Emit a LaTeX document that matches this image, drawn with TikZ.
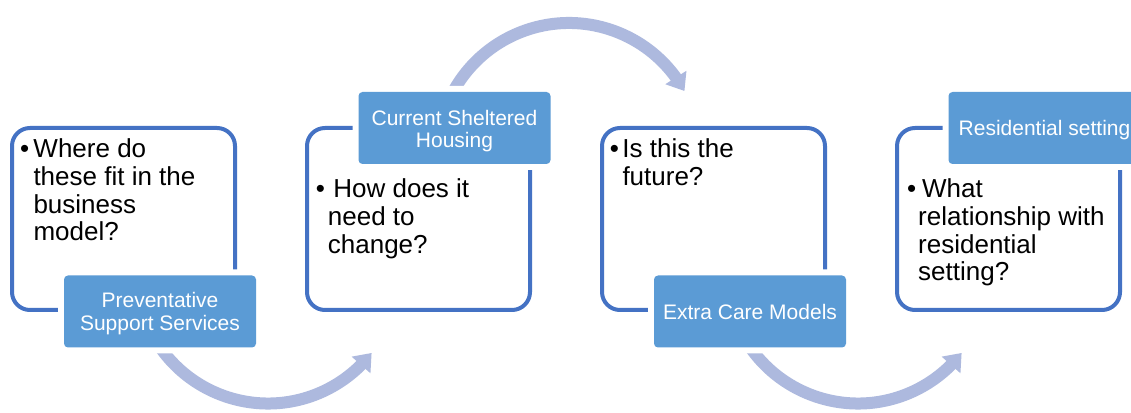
\documentclass[tikz,border=0pt]{standalone}
\usepackage{fontspec}
\setmainfont{Liberation Sans}
\usetikzlibrary{arrows.meta,bending,calc}
\definecolor{frameblue}{RGB}{68,114,196}
\definecolor{tagblue}{RGB}{91,155,213}
\definecolor{flowlav}{RGB}{173,185,222}

\begin{document}
\begin{tikzpicture}[x=1pt,y=1pt,
  frame/.style={draw=frameblue, line width=4pt, rounded corners=18pt,
    minimum width=223pt, minimum height=182pt, inner sep=0pt, outer sep=0pt},
  tag/.style={fill=tagblue, rounded corners=4pt, minimum width=192pt,
    minimum height=72pt, inner sep=0pt,
    preaction={draw=white, line width=12pt}},
  tagtext/.style={text=white, align=center, inner sep=0pt,
    font=\fontsize{21}{22.5}\selectfont},
  % anchored on the baseline of the last line
  bullets/.style={anchor=base west, align=left, inner sep=0pt,
    font=\fontsize{26}{27.6}\selectfont},
  flow/.style={draw=flowlav, line width=12pt,
    -{Triangle[width=24pt,length=16pt]}}
]
\useasboundingbox (0,0) rectangle (1131,412);
\clip (0,0) rectangle (1131,412);
\fill[white] (0,0) rectangle (1131,412);

% centres of the three curved flow arrows
\coordinate (hub1) at (268,140);
\coordinate (hub2) at (569,257);
\coordinate (hub3) at (858,140);

\draw[flow] ($(hub1)+(205:131.5)$) arc[start angle=205, end angle=322, radius=131.5];
\draw[flow] ($(hub2)+(160:132)$) arc[start angle=160, end angle=29, radius=132];
\draw[flow] ($(hub3)+(205:131.5)$) arc[start angle=205, end angle=322, radius=131.5];

% outlined stages
\node[frame] (f1) at (123.5,193) {};
\node[frame] (f2) at (418.5,193) {};
\node[frame] (f3) at (713.5,193) {};
\node[frame] (f4) at (1008.5,193) {};

% stage title boxes sitting on the frame edges
\node[tag] (t1) at ($(f1.south)+(36.5,-1.5)$) {};
\node[tag] (t2) at ($(f2.north)+(36,0)$) {};
\node[tag] (t3) at ($(f3.south)+(36.5,-1.5)$) {};
\node[tag] (t4) at ($(f4.north)+(36,0)$) {};

% stage titles
\node[tagtext] (n1) at ($(t1)+(0,-2)$) {Preventative\\Support Services};
\node[tagtext] (n2) at ($(t2)+(0,-3)$) {Current Sheltered\\Housing};
\node[tagtext] (n3) at ($(t3)+(0,-0.5)$) {Extra Care Models};
\node[tagtext] (n4) at ($(t4)+(0,-2.5)$) {Residential setting};

% questions inside each stage
\node[bullets] (q1) at (33.3,171.2) {\llap{•\hspace{4.25pt}}Where do\\these fit in the\\business\\model?};
\node[bullets] (q2) at (327.7,158.8) {\llap{•\hspace{3pt}}\hspace{5.5pt}How does it\\need to\\change?};
\node[bullets] (q3) at (622.3,226.4) {\llap{•\hspace{3.5pt}}Is this the\\future?};
\node[bullets] (q4) at (918,131.2) {\llap{•\hspace{2pt}}\hspace{4pt}What\\relationship with\\residential\\setting?};
\end{tikzpicture}
\end{document}
